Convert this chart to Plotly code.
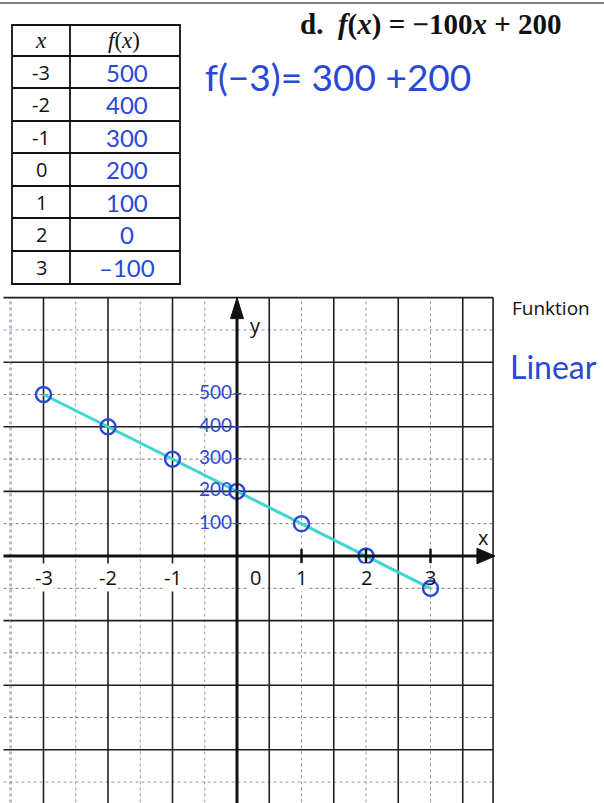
import plotly.graph_objects as go

W, H = 604, 803

# Value table for f(x) = -100x + 200
x_vals = [-3, -2, -1, 0, 1, 2, 3]
f_vals = [500, 400, 300, 200, 100, 0, -100]

# Hand-written y-axis labels and printed x-axis labels
y_label_vals = [100, 200, 300, 400, 500]
x_tick_vals = [-3, -2, -1, 0, 1, 2, 3]
x_tick_text = ["-3", "-2", "-1", "0", "1", "2", "3"]

# Pixel geometry of the coordinate grid (origin and unit sizes)
X0_PX, Y0_PX = 237, 556
UX, UY = 64.5, 0.323  # px per x unit, px per y unit
x_range = [-X0_PX / UX, (W - X0_PX) / UX]
y_range = [(Y0_PX - H) / UY, Y0_PX / UY]

INK = "#2748d8"       # blue pen
LINE_INK = "#3ed6cf"  # turquoise pen
FONT_PRINT = "Open Sans"
FONT_MATH = "Liberation Serif"
FONT_HAND = "Lato"


def px(x):
    return x / W


def py(y):
    return 1 - y / H


def label(x, y, text, font, xanchor="center", yanchor="middle", ref="paper", **extra):
    if ref == "paper":
        d = dict(x=px(x), y=py(y), xref="paper", yref="paper")
    else:
        d = dict(x=x, y=y, xref="x", yref="y")
    d.update(text=text, showarrow=False, xanchor=xanchor, yanchor=yanchor, font=font)
    d.update(extra)
    return d


fig = go.Figure()

shapes = []
annotations = []

# ---------- coordinate grid ----------
g_left, g_right, g_top, g_bottom = -3.62, 3.97, 800, -800
solid_v = [-3, -2, -1, 0.5, 1.5, 2.5, 3.5]
dotted_v = [-3.5, -2.5, -1.5, -0.5, 1, 2, 3]
solid_h = [600, 400, 200, -200, -400, -600]
dotted_h = [500, 300, 100, -100, -300, -500]
blue_dotted_h = [700, -700]

for xv in dotted_v:
    shapes.append(dict(type="line", xref="x", yref="y", x0=xv, x1=xv, y0=g_bottom, y1=g_top,
                       line=dict(color="#9a9a9a", width=1, dash="dot"), layer="below"))
for yv in dotted_h:
    shapes.append(dict(type="line", xref="x", yref="y", x0=g_left, x1=g_right, y0=yv, y1=yv,
                       line=dict(color="#7a7a7a", width=1, dash="dot"), layer="below"))
for yv in blue_dotted_h:
    shapes.append(dict(type="line", xref="x", yref="y", x0=g_left, x1=g_right, y0=yv, y1=yv,
                       line=dict(color="#8096d8", width=1, dash="dot"), layer="below"))
for xv in solid_v:
    shapes.append(dict(type="line", xref="x", yref="y", x0=xv, x1=xv, y0=g_bottom, y1=g_top,
                       line=dict(color="#1e1e1e", width=1.6), layer="below"))
for yv in solid_h:
    shapes.append(dict(type="line", xref="x", yref="y", x0=g_left, x1=g_right, y0=yv, y1=yv,
                       line=dict(color="#1e1e1e", width=1.6), layer="below"))

# outer frame: left dotted edge, top and right solid edges
shapes.append(dict(type="line", xref="x", yref="y", x0=-3.52, x1=-3.52, y0=g_bottom, y1=g_top,
                   line=dict(color="#8a8aa8", width=1, dash="dot"), layer="below"))
shapes.append(dict(type="line", xref="x", yref="y", x0=g_left, x1=g_right, y0=g_top, y1=g_top,
                   line=dict(color="#1e1e1e", width=1.6), layer="below"))
shapes.append(dict(type="line", xref="x", yref="y", x0=g_right, x1=g_right, y0=g_bottom, y1=g_top,
                   line=dict(color="#1e1e1e", width=1.6), layer="below"))

# axes with arrowheads
shapes.append(dict(type="line", xref="x", yref="y", x0=g_left, x1=3.8, y0=0, y1=0,
                   line=dict(color="#111111", width=3)))
shapes.append(dict(type="path", xref="x", yref="y",
                   path="M 4.0,0 L 3.72,24 L 3.72,-24 Z",
                   fillcolor="#111111", line=dict(color="#111111", width=1)))
shapes.append(dict(type="line", xref="x", yref="y", x0=0, x1=0, y0=g_bottom, y1=760,
                   line=dict(color="#111111", width=3)))
shapes.append(dict(type="path", xref="x", yref="y",
                   path="M 0,800 L -0.1,735 L 0.1,735 Z",
                   fillcolor="#111111", line=dict(color="#111111", width=1)))

# tick marks on the x axis
for xv in [1, 2, 3]:
    shapes.append(dict(type="line", xref="x", yref="y", x0=xv, x1=xv, y0=-22, y1=22,
                       line=dict(color="#111111", width=2.5)))

axis_font = dict(family=FONT_PRINT, size=20, color="#111111")
for xv, txt in zip(x_tick_vals, x_tick_text):
    xpos = xv if xv != 0 else 0.28
    # labels sit on a white patch that interrupts the grid line behind them
    bg = "white" if xv < 3 else "rgba(0,0,0,0)"
    annotations.append(label(xpos, -66, txt, axis_font, ref="data", bgcolor=bg, borderpad=0))
annotations.append(label(0.28, 715, "y", axis_font, ref="data"))
annotations.append(label(3.82, 58, "x", axis_font, ref="data"))

# hand-written y labels
for yv in y_label_vals:
    annotations.append(label(0.12, yv + 8, f"{yv}–", dict(family=FONT_HAND, size=19, color=INK),
                             xanchor="right", ref="data"))

# ---------- graph of f ----------
fig.add_trace(go.Scatter(x=x_vals, y=f_vals, mode="lines",
                         line=dict(color=LINE_INK, width=3), hoverinfo="skip"))
fig.add_trace(go.Scatter(x=x_vals, y=f_vals, mode="markers",
                         marker=dict(symbol="circle-open", size=15, color=INK,
                                     line=dict(width=2.4, color=INK)),
                         hoverinfo="skip"))

# ---------- value table ----------
t_left, t_div, t_right = 12, 70, 180
row_edges = [25, 56, 88, 121, 153, 186, 218, 251, 284]
shapes.append(dict(type="rect", xref="paper", yref="paper",
                   x0=px(t_left), x1=px(t_right), y0=py(row_edges[-1]), y1=py(row_edges[0]),
                   line=dict(color="#111111", width=1.8)))
shapes.append(dict(type="line", xref="paper", yref="paper",
                   x0=px(t_div), x1=px(t_div), y0=py(row_edges[-1]), y1=py(row_edges[0]),
                   line=dict(color="#111111", width=1.8)))
for ry in row_edges[1:-1]:
    shapes.append(dict(type="line", xref="paper", yref="paper",
                       x0=px(t_left), x1=px(t_right), y0=py(ry), y1=py(ry),
                       line=dict(color="#111111", width=1.8)))

math_font = dict(family=FONT_MATH, size=23, color="#111111")
header_y = (row_edges[0] + row_edges[1]) / 2
annotations.append(label(41, header_y, "<i>x</i>", math_font))
annotations.append(label(124, header_y, "<i>f</i>(<i>x</i>)", math_font))
for i, (xv, fv) in enumerate(zip(x_vals, f_vals)):
    cy = (row_edges[i + 1] + row_edges[i + 2]) / 2
    annotations.append(label(41, cy, str(xv), dict(family=FONT_PRINT, size=20, color="#111111")))
    txt = f"–{abs(fv)}" if fv < 0 else str(fv)
    annotations.append(label(127, cy, txt, dict(family=FONT_HAND, size=24, color=INK)))

# ---------- page text ----------
shapes.append(dict(type="line", xref="paper", yref="paper", x0=0, x1=1, y0=py(3), y1=py(3),
                   line=dict(color="#555555", width=1.5)))
annotations.append(label(298, 24, "<b>d.</b>  <b><i>f</i>(<i>x</i>) = −100<i>x</i> + 200</b>",
                         dict(family=FONT_MATH, size=29, color="#111111"), xanchor="left"))
annotations.append(label(203, 77, "f(−3)= 300 +200",
                         dict(family=FONT_HAND, size=37, color=INK), xanchor="left"))
annotations.append(label(510, 308, "Funktion",
                         dict(family=FONT_PRINT, size=19, color="#111111"), xanchor="left"))
annotations.append(label(508, 366, "Linear",
                         dict(family=FONT_HAND, size=32, color=INK), xanchor="left"))

fig.update_layout(
    width=W, height=H,
    margin=dict(l=0, r=0, t=0, b=0),
    paper_bgcolor="white", plot_bgcolor="white",
    showlegend=False,
    xaxis=dict(range=x_range, visible=False, showgrid=False, zeroline=False, fixedrange=True),
    yaxis=dict(range=y_range, visible=False, showgrid=False, zeroline=False, fixedrange=True),
    shapes=shapes,
    annotations=annotations,
)

fig.write_html("out.html")
